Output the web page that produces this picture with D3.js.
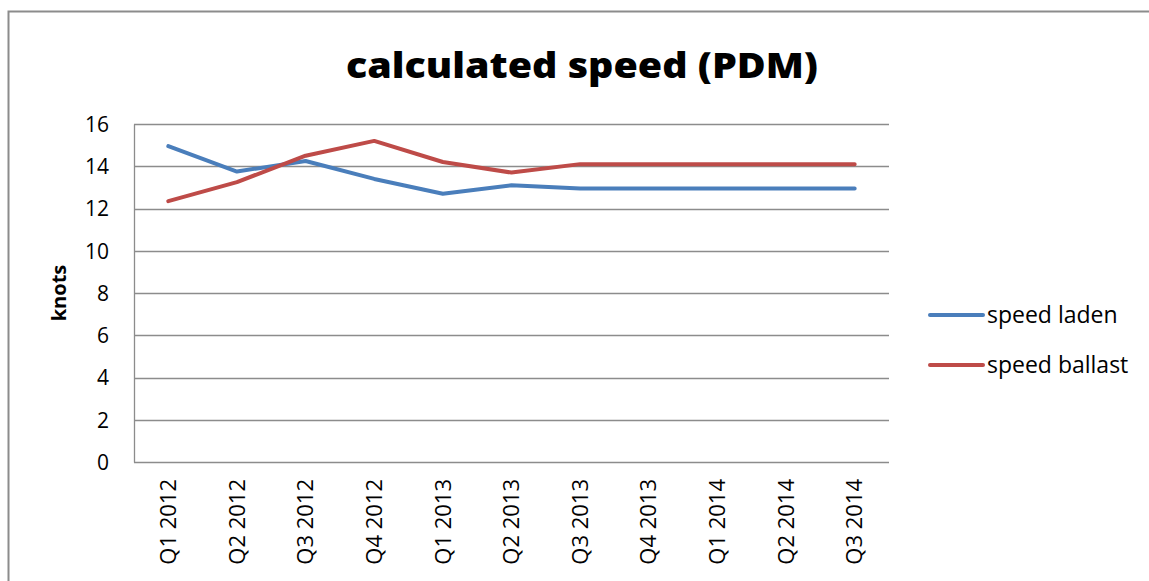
<!DOCTYPE html>
<html lang="en">
<head>
    <meta charset="UTF-8">
    <title>calculated speed (PDM)</title>
    <script src="https://d3js.org/d3.v7.min.js"></script>
    <style>
        body { margin: 0; background: #fff; }
        text { font-family: "Open Sans", "Liberation Sans", sans-serif; fill: #000; }
        .title { font-size: 35px; font-weight: 800; }
        .tick text { font-size: 21px; }
        .ylabel { font-size: 20px; font-weight: bold; }
        .legend text { font-size: 23px; }
    </style>
</head>
<body>
    <div id="chart"></div>
    <script>
        const quarters = ["Q1 2012", "Q2 2012", "Q3 2012", "Q4 2012", "Q1 2013", "Q2 2013",
                          "Q3 2013", "Q4 2013", "Q1 2014", "Q2 2014", "Q3 2014"];
        const speedLaden = [14.95, 13.75, 14.25, 13.4, 12.7, 13.1, 12.95, 12.95, 12.95, 12.95, 12.95];
        const speedBallast = [12.35, 13.25, 14.5, 15.2, 14.2, 13.7, 14.1, 14.1, 14.1, 14.1, 14.1];
        const yTicks = [0, 2, 4, 6, 8, 10, 12, 14, 16];

        const series = [
            {name: "speed laden", values: speedLaden, color: "#4a7ebb"},
            {name: "speed ballast", values: speedBallast, color: "#be4b48"}
        ];

        const W = 1149, H = 581;
        const margin = {top: 124, right: 260, bottom: 119, left: 134};
        const width = W - margin.left - margin.right;
        const height = H - margin.top - margin.bottom;

        const root = d3.select("#chart").append("svg")
            .attr("width", W)
            .attr("height", H);

        // outer chart frame
        root.append("rect")
            .attr("x", 8.5).attr("y", 11.5)
            .attr("width", 1160).attr("height", 600)
            .attr("fill", "none")
            .attr("stroke", "#8c8c8c")
            .attr("stroke-width", 2);

        root.append("text")
            .attr("class", "title")
            .attr("x", 582)
            .attr("y", 78)
            .attr("text-anchor", "middle")
            .attr("textLength", 472)
            .attr("lengthAdjust", "spacingAndGlyphs")
            .text("calculated speed (PDM)");

        const svg = root.append("g")
            .attr("transform", `translate(${margin.left},${margin.top})`);

        const x = d3.scaleBand()
            .domain(quarters)
            .range([0, width]);

        const y = d3.scaleLinear()
            .domain([0, 16])
            .range([height, 0]);

        // gridlines
        svg.append("g")
            .selectAll("line")
            .data(yTicks)
            .enter()
            .append("line")
            .attr("x1", 0)
            .attr("x2", width)
            .attr("y1", d => Math.round(y(d)) + 0.5)
            .attr("y2", d => Math.round(y(d)) + 0.5)
            .attr("stroke", "#8c8c8c")
            .attr("stroke-width", 1.3);

        // y axis
        const yAxis = svg.append("g")
            .call(d3.axisLeft(y).tickValues(yTicks).tickSize(0).tickPadding(25));
        yAxis.select(".domain").attr("stroke", "#8c8c8c").attr("stroke-width", 1.3);
        yAxis.selectAll(".tick text").attr("dy", "0.35em");

        // x axis
        const xAxis = svg.append("g")
            .attr("transform", `translate(0,${height})`)
            .call(d3.axisBottom(x).tickSize(0));
        xAxis.select(".domain").remove();
        xAxis.selectAll(".tick text")
            .attr("transform", "rotate(-90)")
            .attr("text-anchor", "end")
            .attr("x", -17)
            .attr("y", 0)
            .attr("dy", "0.35em")
            .style("font-size", "22px");

        root.append("text")
            .attr("class", "ylabel")
            .attr("transform", `translate(66,${margin.top + height / 2}) rotate(-90)`)
            .attr("text-anchor", "middle")
            .text("knots");

        const line = d3.line()
            .x((d, i) => x(quarters[i]) + x.bandwidth() / 2)
            .y(d => y(d));

        svg.selectAll(".series")
            .data(series)
            .enter()
            .append("path")
            .attr("class", "series")
            .attr("d", d => line(d.values))
            .attr("fill", "none")
            .attr("stroke", d => d.color)
            .attr("stroke-width", 4)
            .attr("stroke-linecap", "round")
            .attr("stroke-linejoin", "round");

        const legend = root.append("g")
            .attr("class", "legend")
            .attr("transform", "translate(930,315)");

        const item = legend.selectAll("g")
            .data(series)
            .enter()
            .append("g")
            .attr("transform", (d, i) => `translate(0,${i * 50})`);

        item.append("line")
            .attr("x1", 0).attr("x2", 53)
            .attr("y1", 0).attr("y2", 0)
            .attr("stroke", d => d.color)
            .attr("stroke-width", 4)
            .attr("stroke-linecap", "round");

        item.append("text")
            .attr("x", 57)
            .attr("dy", "0.35em")
            .text(d => d.name);
    </script>
</body>
</html>
